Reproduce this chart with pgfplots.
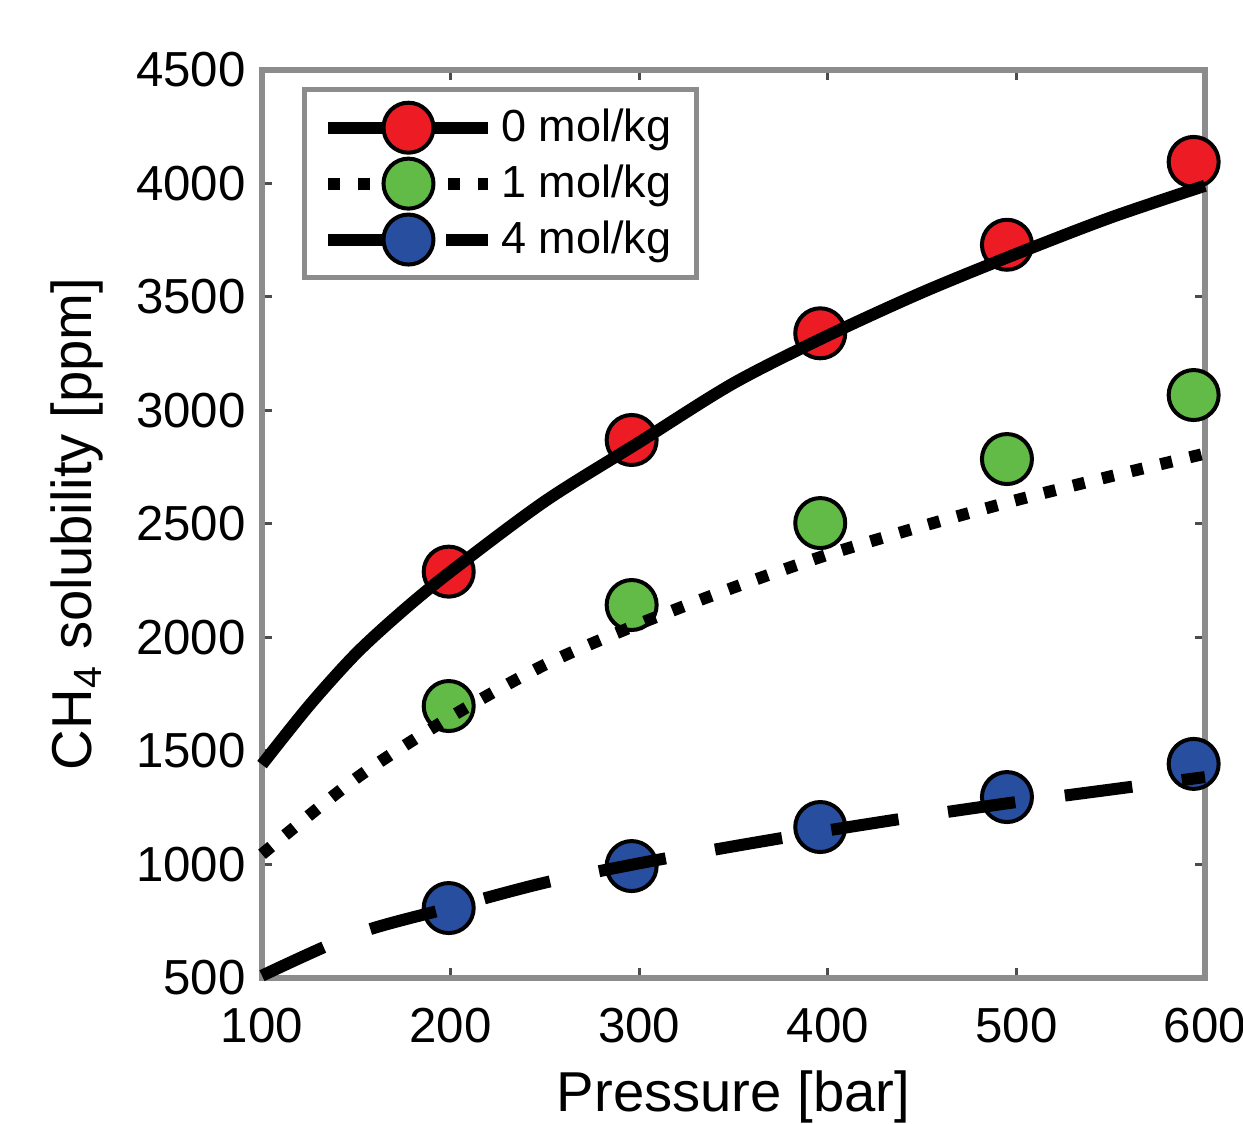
\documentclass[border=0pt]{standalone}
\usepackage{fontspec}
\setmainfont{Liberation Sans}
\usepackage{pgfplots}
\pgfplotsset{compat=1.18}
\definecolor{axgray}{RGB}{140,140,140}
\definecolor{mred}{RGB}{237,28,36}
\definecolor{mgreen}{RGB}{98,187,70}
\definecolor{mblue}{RGB}{40,78,160}
\begin{document}
\begin{tikzpicture}
\begin{axis}[
  at={(0,0)}, anchor=south west,
  scale only axis, width=94.3mm, height=90.8mm,
  xmin=100, xmax=600, ymin=500, ymax=4500,
  xtick={100,200,...,600}, ytick={500,1000,...,4500},
  clip=false,
  set layers=standard, mark layer=pre main,
  axis line style={axgray, line width=0.55mm},
  tick style={black!70, line width=0.3mm}, major tick length=1mm,
  tick align=inside,
  ticklabel style={font=\fontsize{14}{16}\selectfont},
  /pgf/number format/assume math mode=true,
  /pgf/number format/1000 sep={},
  xticklabel style={yshift=-1.8mm},
  yticklabel style={xshift=-0.4mm},
  xlabel={Pressure [bar]},
  ylabel={CH\textsubscript{4} solubility [ppm]},
  label style={font=\fontsize{16}{19}\selectfont},
  xlabel style={at={(axis description cs:0.5,-0.1476)}, anchor=base},
  ylabel style={at={(axis description cs:-0.1803,0.5)}, anchor=base},
  legend style={at={(axis description cs:0.0424,0.981)}, anchor=north west,
    draw=axgray, line width=0.5mm, font=\fontsize{12.8}{15}\selectfont,
    inner xsep=1.8mm, inner ysep=1.2mm, row sep=0.4mm},
  legend cell align=left,
  legend image code/.code={\draw[mark repeat=2,mark phase=2,#1] plot coordinates {(0mm,0mm) (8mm,0mm) (16mm,0mm)};},
]
% measured points
\addplot[only marks, mark=*, mark size=2.5mm, mark options={fill=mred, draw=black, line width=0.4mm}, forget plot]
  coordinates {(199,2290) (296,2870) (396,3340) (495,3730) (594,4095)};
\addplot[only marks, mark=*, mark size=2.5mm, mark options={fill=mgreen, draw=black, line width=0.4mm}, forget plot]
  coordinates {(199,1698) (296,2143) (396,2504) (495,2786) (594,3068)};
\addplot[only marks, mark=*, mark size=2.5mm, mark options={fill=mblue, draw=black, line width=0.4mm}, forget plot]
  coordinates {(199,808) (296,993) (396,1165) (495,1297) (594,1443)};
% model curves
\addplot[black, line width=1.2mm, smooth, forget plot]
  coordinates {(100,1440) (125,1700) (150,1930) (175,2120) (200,2290) (250,2600) (300,2860)
               (350,3120) (400,3330) (450,3520) (500,3690) (550,3850) (600,3990)};
\addplot[black, line width=1.2mm, smooth, dash pattern=on 1.2mm off 1.8mm, forget plot]
  coordinates {(100,1045) (150,1380) (200,1650) (250,1880) (300,2060) (350,2220)
               (400,2365) (450,2490) (500,2605) (550,2710) (600,2810)};
\addplot[black, line width=1.2mm, smooth, dash pattern=on 6.8mm off 5mm, forget plot]
  coordinates {(100,510) (150,695) (200,810) (250,920) (300,1005) (350,1080)
               (400,1150) (450,1215) (500,1275) (550,1330) (600,1385)};
\addlegendimage{black, line width=1.2mm, mark=*, mark size=2.5mm, mark options={solid, fill=mred, draw=black, line width=0.4mm}}
\addlegendentry{0 mol/kg}
\addlegendimage{black, line width=1.2mm, dash pattern=on 1.2mm off 1.8mm, mark=*, mark size=2.5mm, mark options={solid, fill=mgreen, draw=black, line width=0.4mm}}
\addlegendentry{1 mol/kg}
\addlegendimage{black, line width=1.2mm, dash pattern=on 6.8mm off 5mm, mark=*, mark size=2.5mm, mark options={solid, fill=mblue, draw=black, line width=0.4mm}}
\addlegendentry{4 mol/kg}
\end{axis}
\pgfresetboundingbox
\path (-26.2mm,-14.6mm) rectangle (98.1mm,97.8mm);
\end{tikzpicture}
\end{document}
